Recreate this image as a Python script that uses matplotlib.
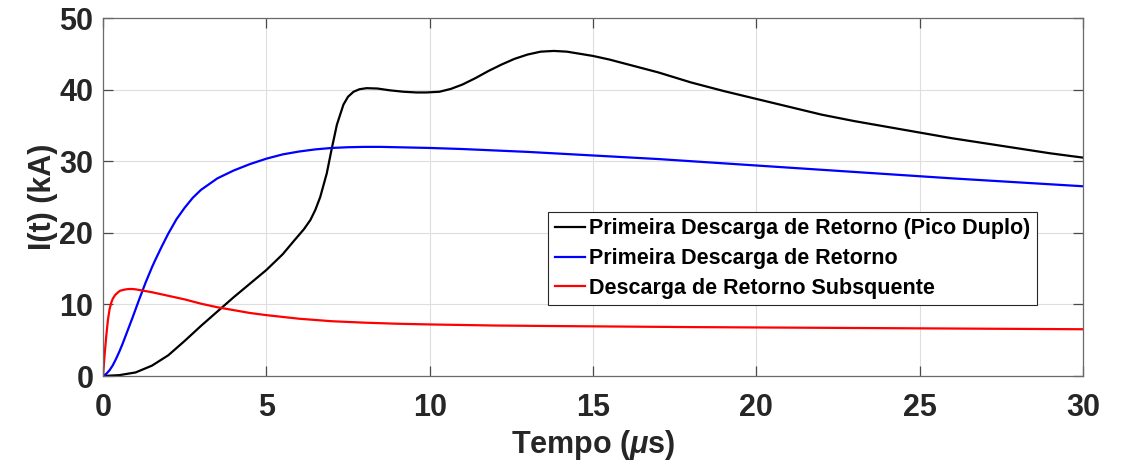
import matplotlib
matplotlib.use("Agg")
import matplotlib.pyplot as plt

# ---- data ----
t_black = [0, 0.5, 1, 1.5, 2, 2.5, 3, 3.5, 4, 4.5, 5, 5.5, 5.85, 6.15, 6.35, 6.5,
           6.65, 6.85, 7.0, 7.16, 7.36, 7.5, 7.67, 7.85, 8.07, 8.4, 8.78, 9.2,
           9.6, 9.9, 10.3, 10.65, 11.0, 11.4, 11.8, 12.2, 12.6, 13.0, 13.4, 13.8,
           14.2, 14.6, 15.0, 15.5, 16.0, 17.0, 18.0, 19.0, 20.0, 21.0, 22.0, 23.0,
           24.0, 25.0, 26.0, 27.0, 28.0, 29.0, 30.0]
i_black = [0, 0.12, 0.5, 1.45, 2.9, 4.9, 7.0, 9.0, 11.0, 12.9, 14.8, 17.0, 18.9,
           20.5, 21.8, 23.2, 25.0, 28.3, 31.7, 35.1, 37.9, 39.0, 39.7, 40.05, 40.2,
           40.15, 39.9, 39.7, 39.6, 39.6, 39.7, 40.1, 40.7, 41.6, 42.6, 43.5, 44.3,
           44.9, 45.3, 45.4, 45.3, 45.0, 44.7, 44.2, 43.6, 42.4, 41.0, 39.8, 38.7,
           37.6, 36.5, 35.6, 34.8, 34.0, 33.2, 32.5, 31.8, 31.1, 30.5]

t_blue = [0, 0.1, 0.2, 0.3, 0.4, 0.5, 0.6, 0.7, 0.8, 0.9, 1.0, 1.1, 1.2, 1.3, 1.4,
          1.5, 1.6, 1.8, 2.0, 2.25, 2.5, 2.75, 3.0, 3.5, 4.0, 4.5, 5.0, 5.5, 6.0,
          6.5, 7.0, 7.5, 8.0, 8.5, 9, 10, 11, 12, 13, 14, 15, 16, 17, 18, 20, 22,
          24, 26, 28, 30]
i_blue = [0, 0.3, 0.8, 1.5, 2.4, 3.4, 4.5, 5.7, 6.9, 8.1, 9.35, 10.6, 11.8, 13.0,
          14.1, 15.2, 16.2, 18.1, 19.9, 21.9, 23.5, 24.9, 26.0, 27.6, 28.7, 29.6,
          30.35, 30.95, 31.35, 31.65, 31.85, 31.95, 32.0, 32.0, 31.95, 31.85, 31.7,
          31.5, 31.3, 31.05, 30.8, 30.55, 30.3, 30.0, 29.4, 28.8, 28.2, 27.6,
          27.05, 26.5]

t_red = [0, 0.05, 0.1, 0.15, 0.2, 0.25, 0.3, 0.37, 0.45, 0.52, 0.6, 0.7, 0.8, 0.9,
         1.0, 1.25, 1.5, 2.0, 2.5, 3.0, 3.5, 4.0, 4.5, 5.0, 6.0, 7.0, 8.0, 9.0, 10,
         12, 14, 16, 18, 20, 22, 24, 26, 28, 30]
i_red = [0, 3.0, 5.6, 7.8, 9.3, 10.2, 10.8, 11.3, 11.65, 11.9, 12.0, 12.1, 12.15,
         12.15, 12.1, 11.9, 11.7, 11.2, 10.7, 10.1, 9.6, 9.2, 8.8, 8.5, 8.0, 7.65,
         7.45, 7.3, 7.2, 7.05, 6.97, 6.9, 6.83, 6.78, 6.73, 6.68, 6.63, 6.58, 6.53]

labels = ["Primeira Descarga de Retorno (Pico Duplo)",
          "Primeira Descarga de Retorno",
          "Descarga de Retorno Subsquente"]
x_ticks = [0, 5, 10, 15, 20, 25, 30]
y_ticks = [0, 10, 20, 30, 40, 50]

# ---- figure ----
plt.rcParams['font.family'] = ['Liberation Sans', 'DejaVu Sans']
plt.rcParams['mathtext.fontset'] = 'custom'
plt.rcParams['mathtext.it'] = 'Liberation Sans:italic:bold'
plt.rcParams['mathtext.rm'] = 'Liberation Sans:bold'

fig = plt.figure(figsize=(11.27, 4.65), dpi=100)
ax = fig.add_axes([103/1127, 89/465, 980/1127, 358/465])

ax.plot(t_black, i_black, color='black', lw=1.6, label=labels[0])
ax.plot(t_blue, i_blue, color='#0000ff', lw=1.6, label=labels[1])
ax.plot(t_red, i_red, color='#ff0000', lw=1.6, label=labels[2])

ax.set_xlim(0, 30)
ax.set_ylim(0, 50)
ax.set_xticks(x_ticks)
ax.set_yticks(y_ticks)
ax.grid(True, color='#dedede', lw=0.8)
ax.set_axisbelow(True)

for s in ax.spines.values():
    s.set_color('#6a6a6a')
    s.set_linewidth(0.9)

ax.tick_params(direction='in', length=7, width=0.9, color='#4a4a4a',
               top=True, right=True, labelsize=22, labelcolor='#262626')
ax.tick_params(axis='x', pad=12)
ax.tick_params(axis='y', pad=7)
for lab in ax.get_xticklabels() + ax.get_yticklabels():
    lab.set_fontweight('bold')

ax.set_xlabel(r'Tempo ($\mu$s)', fontsize=22, fontweight='bold', color='#262626', labelpad=4)
ax.set_ylabel('I(t) (kA)', fontsize=22, fontweight='bold', color='#262626', labelpad=1)

leg = ax.legend(loc='upper right', bbox_to_anchor=(0.953, 0.458), borderaxespad=0,
                fancybox=False, framealpha=1, edgecolor='#262626',
                prop={'family': 'Liberation Sans', 'weight': 'bold', 'size': 15.5},
                handlelength=1.4, handletextpad=0.2, borderpad=0.3,
                labelspacing=0.4)
leg.get_frame().set_linewidth(0.8)

fig.savefig('out.png', dpi=100)
